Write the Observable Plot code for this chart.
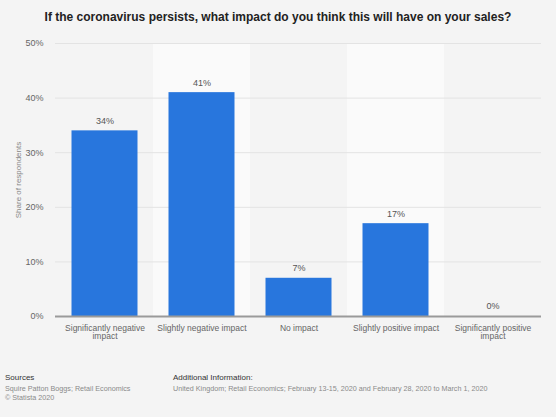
<!DOCTYPE html>
<html>
<head>
<meta charset="utf-8">
<script src="https://cdn.jsdelivr.net/npm/d3@7"></script>
<script src="https://cdn.jsdelivr.net/npm/@observablehq/plot@0.6"></script>
<style>
  html, body { margin: 0; padding: 0; background: #f4f4f4; width: 556px; height: 417px; overflow: hidden; font-family: "Liberation Sans", Arial, sans-serif; }
  #title { height: 34px; line-height: 34px; text-align: center; font-weight: bold; font-size: 12px; color: #222; }
  #chart { height: 312px; }
  #footer { position: relative; height: 71px; font-size: 7.2px; }
  .fh { position: absolute; top: 27px; color: #333; font-size: 8px; }
  .fl { position: absolute; color: #8a8a8a; }
</style>
</head>
<body>
<div id="title">If the coronavirus persists, what impact do you think this will have on your sales?</div>
<div id="chart"></div>
<div id="footer">
  <div class="fh" style="left:5px">Sources</div>
  <div class="fl" style="left:5px;top:38px">Squire Patton Boggs; Retail Economics</div>
  <div class="fl" style="left:5px;top:47px">© Statista 2020</div>
  <div class="fh" style="left:173px">Additional Information:</div>
  <div class="fl" style="left:173px;top:38px">United Kingdom; Retail Economics; February 13-15, 2020 and February 28, 2020 to March 1, 2020</div>
</div>
<script>
const categories = ["Significantly negative impact", "Slightly negative impact", "No impact", "Slightly positive impact", "Significantly positive impact"];
const values = [34, 41, 7, 17, 0];
const xTickLabels = ["Significantly negative\nimpact", "Slightly negative impact", "No impact", "Slightly positive impact", "Significantly positive\nimpact"];
const yTicks = [0, 10, 20, 30, 40, 50];
const shadedCategories = [categories[1], categories[3]];

const data = categories.map((c, i) => ({category: c, value: values[i]}));
const labelMap = new Map(categories.map((c, i) => [c, xTickLabels[i]]));

const chart = Plot.plot({
  width: 556,
  height: 312,
  marginLeft: 55,
  marginRight: 15,
  marginTop: 9,
  marginBottom: 30,
  style: {background: "transparent", fontFamily: "Liberation Sans, Arial, sans-serif"},
  x: {domain: categories, padding: 0},
  y: {domain: [0, 50]},
  marks: [
    Plot.barY(shadedCategories, {x: d => d, y1: 0, y2: 50, fill: "#fafafa"}),
    Plot.gridY(yTicks.filter(t => t > 0), {stroke: "#e3e3e3", strokeOpacity: 1, strokeWidth: 1}),
    Plot.barY(data, {x: "category", y: "value", fill: "#2876dd", insetLeft: 15.5, insetRight: 15.5}),
    Plot.ruleY([0], {stroke: "#9a9a9a", strokeWidth: 2}),
    Plot.text(data, {x: "category", y: "value", text: d => d.value + "%", dy: -10, fontSize: 9, fill: "#555"}),
    Plot.axisY({ticks: yTicks, tickFormat: d => d + "%", tickSize: 0, tickPadding: 12, fontSize: 9, color: "#666",
      label: "Share of respondents", labelAnchor: "center", labelArrow: "none", labelOffset: 40}),
    Plot.axisX({tickSize: 0, tickPadding: 8, fontSize: 8.5, color: "#666", tickFormat: d => labelMap.get(d), label: null})
  ]
});
chart.querySelectorAll("[aria-label='y-axis label'] text, [aria-label='y-axis label']").forEach(e => { e.setAttribute("font-size", "8"); e.setAttribute("fill", "#888"); });
document.getElementById("chart").appendChild(chart);
</script>
</body>
</html>
